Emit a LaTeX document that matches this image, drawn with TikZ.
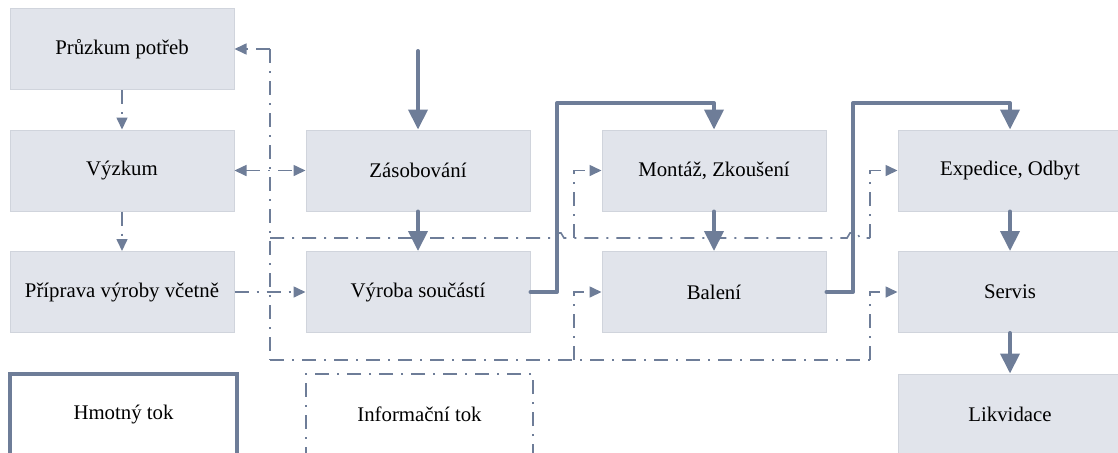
\documentclass[tikz,border=0pt]{standalone}
\usepackage{fontspec}
\setmainfont{Liberation Serif}
\newfontfamily\tnr{Liberation Serif}
\usetikzlibrary{arrows.meta}
\definecolor{lc}{RGB}{110,125,152}
\definecolor{bf}{RGB}{225,228,235}
\definecolor{bd}{RGB}{208,212,220}
\tikzset{
  box/.style={draw=bd,line width=0.5pt,fill=bf,minimum width=112pt,minimum height=40.5pt,inner sep=0pt,font=\tnr\fontsize{10.4}{12}\selectfont},
  legend/.style={fill=white,minimum width=113.5pt,minimum height=40.5pt,inner sep=0pt,font=\tnr\fontsize{10.4}{12}\selectfont},
  mat/.style={draw=lc,line width=2pt,line cap=round,line join=round},
  matarrow/.style={mat,-{Triangle[length=10pt,width=9.5pt]}},
  info/.style={draw=lc,line width=0.8pt,dash pattern=on 7pt off 4pt on 1pt off 4pt},
  infoarrow/.style={info,-{Triangle[length=6pt,width=5.5pt]}},
  infoboth/.style={info,{Triangle[length=6pt,width=5.5pt]}-{Triangle[length=6pt,width=5.5pt]}}
}
\begin{document}
\begin{tikzpicture}[x=0.5pt,y=-0.5pt]
\useasboundingbox (0,0) rectangle (1118,452);
\begin{scope}
\clip (0,0) rectangle (1118,452);
% boxes
\node[box] (pp) at (122,49) {Průzkum potřeb};
\node[box] (vy) at (122,170.5) {Výzkum};
\node[box] (pr) at (122,292) {Příprava výroby včetně};
\node[box] (za) at (418,170.5) {Zásobování};
\node[box] (vs) at (418,292) {Výroba součástí};
\node[box] (mo) at (714,170.5) {Montáž, Zkoušení};
\node[box] (ba) at (714,292) {Balení};
\node[box] (ex) at (1010,170.5) {Expedice, Odbyt};
\node[box] (se) at (1010,292) {Servis};
\node[box] (li) at (1010,414.5) {Likvidace};
% legend
\node[legend,draw=lc,line width=2pt] (lm) at (123.5,414.5) {Hmotný tok};
\node[legend,draw=lc,line width=0.8pt,dash pattern=on 7pt off 4pt on 1pt off 4pt] (lin) at (419.5,414.5) {Informační tok};
% information flow
\coordinate (it) at (270,49);
\coordinate (a1) at (270,238);
\coordinate (a2) at (574,238);
\coordinate (a3) at (870,238);
\coordinate (b1) at (270,360);
\coordinate (b2) at (574,360);
\coordinate (b3) at (870,360);
\draw[info] (it) -- (b1);
\draw[infoarrow] (it) -- (pp.east);
\draw[infoarrow] (pp.south) -- (vy.north);
\draw[infoarrow] (vy.south) -- (pr.north);
\draw[infoarrow] (pr.east) -- (vs.west);
\draw[infoboth] (vy.east) -- (za.west);
\draw[info] (a1) -- (551,238) -- (554,233) -- (561,233) -- (564,238) -- (847,238) -- (850,233) -- (857,233) -- (860,238) -- (a3);
\draw[info] (b1) -- (b3);
\draw[infoarrow] (a2) |- (mo.west);
\draw[infoarrow] (a3) |- (ex.west);
\draw[infoarrow] (b2) |- (ba.west);
\draw[infoarrow] (b3) |- (se.west);
% material flow
\coordinate (top) at (418,51);
\coordinate (h1) at (557,103);
\coordinate (h2) at (853,103);
\draw[matarrow] (top) -- (za.north);
\draw[matarrow] (za.south) -- (vs.north);
\draw[matarrow] (vs.east) -| (h1) -| (mo.north);
\draw[matarrow] (mo.south) -- (ba.north);
\draw[matarrow] (ba.east) -| (h2) -| (ex.north);
\draw[matarrow] (ex.south) -- (se.north);
\draw[matarrow] (se.south) -- (li.north);
\end{scope}
\end{tikzpicture}
\end{document}
